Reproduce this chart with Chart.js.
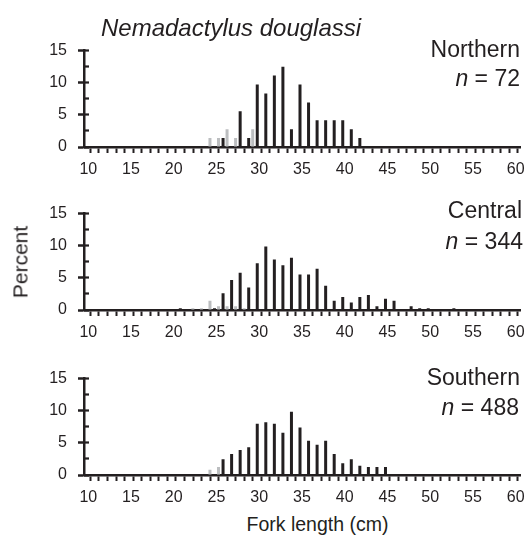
<!DOCTYPE html>
<html><head><meta charset="utf-8">
<script src="https://cdn.jsdelivr.net/npm/chart.js@4.4.0/dist/chart.umd.min.js"></script>
<style>
html,body{margin:0;padding:0;background:#fff;width:529px;height:547px;overflow:hidden;}
body{position:relative;font-family:"Liberation Sans",Arial,sans-serif;color:#231f20;}
canvas{position:absolute;left:0;}
.t{position:absolute;white-space:nowrap;line-height:1;}
.r{text-align:right;}
</style></head><body>
<canvas id="pN" width="529" height="153" style="top:30px;width:529px;height:153px"></canvas>
<canvas id="pC" width="529" height="153" style="top:193px;width:529px;height:153px"></canvas>
<canvas id="pS" width="529" height="153" style="top:358px;width:529px;height:153px"></canvas>

<div class="t" style="left:101px;top:16px;font-size:24px;font-style:italic;">Nemadactylus douglassi</div>
<div class="t r" style="right:9px;top:38px;font-size:23px;">Northern</div>
<div class="t r" style="right:9px;top:67px;font-size:23px;"><i>n</i> = 72</div>
<div class="t r" style="right:7px;top:199px;font-size:23px;">Central</div>
<div class="t r" style="right:6px;top:230px;font-size:23px;"><i>n</i> = 344</div>
<div class="t r" style="right:9px;top:366px;font-size:23px;">Southern</div>
<div class="t r" style="right:10px;top:396px;font-size:23px;"><i>n</i> = 488</div>
<div class="t" style="left:20px;top:262px;font-size:21px;transform:translate(-50%,-50%) rotate(-90deg);">Percent</div>
<div class="t" style="left:0;width:635px;text-align:center;top:515px;font-size:19.5px;">Fork length (cm)</div>

<script>
// Fork length bins (cm)
const lengthsCm = [21,22,23,24,25,26,27,28,29,30,31,32,33,34,35,36,37,38,39,40,41,42,43,44,45,46,47,48,49,50,51,52,53];
// Northern (percent)
const northernBlack = [0,0,0,0,0,1.39,0,5.56,1.39,9.72,8.33,11.11,12.5,2.78,9.72,6.94,4.17,4.17,4.17,4.17,2.78,1.39,0,0,0,0,0,0,0,0,0,0,0];
const northernGrey  = [0,0,0,1.39,1.39,2.78,1.39,0,2.78,0,0,0,0,0,0,0,0,0,0,0,0,0,0,0,0,0,0,0,0,0,0,0,0];
// Central (percent)
const centralBlack = [0.29,0,0,0,0.29,2.62,4.65,5.81,3.49,7.27,9.88,7.85,6.98,8.14,5.52,5.52,6.4,3.78,1.45,2.03,1.16,2.03,2.33,0.58,1.74,1.45,0,0.58,0.29,0.29,0,0,0.29];
const centralGrey  = [0,0.29,0.29,1.45,0.58,0.58,0.58,0.29,0,0,0,0,0,0,0,0,0,0,0,0,0,0,0,0,0,0,0,0,0,0,0,0,0];
// Southern (percent)
const southernBlack = [0,0,0,0,0,2.46,3.28,3.89,4.3,7.99,8.2,7.99,6.56,9.84,7.38,5.33,4.71,5.33,3.28,1.84,2.46,1.43,1.23,1.23,1.23,0,0,0,0,0,0,0,0];
const southernGrey  = [0,0,0,0.82,1.23,0,0,0,0,0,0,0,0,0,0,0,0,0,0,0,0,0,0,0,0,0,0,0,0,0,0,0,0];
// Axis ticks
const xMin = 9.5, xMax = 60.5;
const xLabelStep = 5;
const yMax = 15, yMajorStep = 5, yMinorStep = 2.5;

const INK = '#231f20', GREY = '#bcbec0', FONT = '"Liberation Sans", Arial, sans-serif';
const clear = 'rgba(0,0,0,0)';

function range(a, b, s) { const out = []; for (let v = a; v <= b + 1e-9; v += s) out.push(Math.round(v * 100) / 100); return out; }

function makePanel(id, blackVals, greyVals) {
  const toPts = vals => lengthsCm.map((x, i) => ({ x, y: vals[i] }));
  const barOpts = { borderWidth: 0, categoryPercentage: 1.87, barPercentage: 0.75 };
  return new Chart(document.getElementById(id), {
    type: 'bar',
    data: {
      datasets: [
        Object.assign({ label: 'black', data: toPts(blackVals), backgroundColor: INK }, barOpts),
        Object.assign({ label: 'grey', data: toPts(greyVals), backgroundColor: GREY }, barOpts)
      ]
    },
    options: {
      responsive: false, animation: false, devicePixelRatio: 1,
      layout: { padding: { top: 12, right: 9, left: 0, bottom: 0 } },
      plugins: { legend: { display: false }, tooltip: { enabled: false } },
      scales: {
        x: {
          type: 'linear', min: xMin, max: xMax, offset: false,
          afterBuildTicks: s => { s.ticks = range(xMin, xMax, 0.5).map(v => ({ value: v })); },
          afterFit: s => { s.height = 36; },
          grid: { drawOnChartArea: false, drawTicks: true, tickLength: 6, tickWidth: 2,
                  tickColor: c => (c.tick && !Number.isInteger(c.tick.value)) ? INK : clear },
          border: { display: true, width: 2.5, color: INK },
          ticks: { autoSkip: false, maxRotation: 0, minRotation: 0, padding: 7, color: INK,
                   font: { size: 16, family: FONT },
                   callback: v => (Number.isInteger(v) && v % xLabelStep === 0) ? String(v) : '' }
        },
        y: {
          type: 'linear', min: 0, max: yMax,
          afterBuildTicks: s => { s.ticks = range(0, yMax, yMinorStep).map(v => ({ value: v })); },
          afterFit: s => { s.width = 84; },
          grid: { drawOnChartArea: false, tickLength: 6, tickWidth: 2.5,
                  tickColor: c => (c.tick && c.tick.value % yMajorStep === 0) ? INK : clear },
          border: { display: true, width: 2.5, color: INK },
          ticks: { padding: 11, color: INK, font: { size: 16, family: FONT },
                   callback: v => (v % yMajorStep === 0) ? String(v) : '' }
        },
        yIn: {
          type: 'linear', axis: 'y', position: { x: xMin }, min: 0, max: yMax,
          afterBuildTicks: s => { s.ticks = range(0, yMax, yMinorStep).map(v => ({ value: v })); },
          grid: { drawOnChartArea: false, tickLength: -5, tickWidth: 2.2, tickColor: INK },
          border: { display: false },
          ticks: { display: false }
        }
      }
    }
  });
}

makePanel('pN', northernBlack, northernGrey);
makePanel('pC', centralBlack, centralGrey);
makePanel('pS', southernBlack, southernGrey);
</script>
</body></html>
